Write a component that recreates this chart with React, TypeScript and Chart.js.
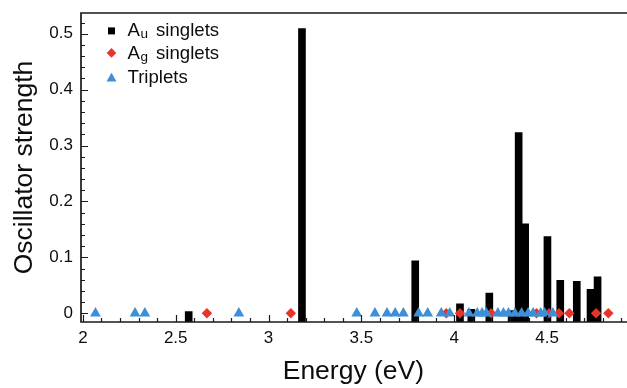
import React, { useEffect, useRef } from 'react';
import { Chart, registerables } from 'chart.js';

Chart.register(...registerables);

// ---- data ----
const AU_ENERGY = [2.57, 3.18, 3.79, 4.031, 4.092, 4.189, 4.309, 4.347, 4.382, 4.502, 4.571, 4.66, 4.734, 4.772];
const AU_STRENGTH = [0.003, 0.509, 0.094, 0.017, 0.007, 0.036, 0.005, 0.323, 0.16, 0.137, 0.059, 0.057, 0.043, 0.065];
const AG_ENERGY = [2.668, 3.12, 3.957, 4.031, 4.199, 4.443, 4.511, 4.564, 4.62, 4.764, 4.83];
const TRIPLET_ENERGY = [
  2.068, 2.281, 2.334, 2.84, 3.475, 3.573, 3.638, 3.682, 3.726, 3.808, 3.857, 3.93, 3.976,
  4.079, 4.124, 4.15, 4.173, 4.235, 4.265, 4.292, 4.327, 4.363, 4.398, 4.425, 4.466, 4.487, 4.531,
];
const X_TICKS = [2, 2.5, 3, 3.5, 4, 4.5];
const Y_TICKS = [0, 0.1, 0.2, 0.3, 0.4, 0.5];
const X_TITLE = 'Energy (eV)';
const Y_TITLE = 'Oscillator strength';
const LEGEND_MAIN = ['A', 'A', 'Triplets'];
const LEGEND_SUB = ['u', 'g', ''];
const LEGEND_REST = [' singlets', ' singlets', ''];

const X_MIN = 1.99;
const X_MAX = 4.924;
const Y_MIN = -0.0156;
const Y_MAX = 0.537;

// ---- style ----
const FONT = '"Liberation Sans", Arial, Helvetica, sans-serif';
const INK = '#0d0d0d';
const RED = '#e6342a';
const BLUE = '#3d8fd6';
const BAR = '#000000';
const LEGEND_COLORS = [BAR, RED, BLUE];
const LEGEND_SHAPES = ['square', 'diamond', 'triangle'];

const framePlugin = {
  id: 'frameTicks',
  afterDatasetsDraw(chart: any) {
    const { ctx, chartArea, scales } = chart;
    const { left, right, top, bottom } = chartArea;
    const xs = scales.x;
    const ys = scales.y;
    ctx.save();
    ctx.strokeStyle = '#1a1a1a';
    ctx.lineWidth = 1.2;
    ctx.beginPath();
    for (let i = 0; i <= 26; i++) {
      const v = i * 0.02;
      const p = Math.round(ys.getPixelForValue(v)) + 0.5;
      const len = i % 5 === 0 ? 7 : 4;
      ctx.moveTo(left, p);
      ctx.lineTo(left + len, p);
    }
    for (let i = 20; i <= 49; i++) {
      const v = i / 10;
      const p = Math.round(xs.getPixelForValue(v)) + 0.5;
      const len = i % 5 === 0 ? 7 : 4;
      ctx.moveTo(p, bottom);
      ctx.lineTo(p, bottom - len);
    }
    ctx.stroke();
    ctx.lineWidth = 1.7;
    ctx.beginPath();
    ctx.moveTo(right + 5, top);
    ctx.lineTo(left, top);
    ctx.lineTo(left, bottom);
    ctx.lineTo(right + 5, bottom);
    ctx.stroke();
    ctx.restore();
  },
};

const legendPlugin = {
  id: 'subLegend',
  afterDraw(chart: any) {
    const ctx = chart.ctx;
    ctx.save();
    const x0 = 111.5;
    const tx = 127.5;
    for (let i = 0; i < LEGEND_MAIN.length; i++) {
      const base = 36 + i * 23.3;
      ctx.fillStyle = LEGEND_COLORS[i];
      const shape = LEGEND_SHAPES[i];
      ctx.beginPath();
      if (shape === 'square') {
        ctx.rect(x0 - 3.5, base - 8.6, 7, 7);
      } else if (shape === 'diamond') {
        const cy = base - 6.4;
        ctx.moveTo(x0, cy - 4.8);
        ctx.lineTo(x0 + 4.8, cy);
        ctx.lineTo(x0, cy + 4.8);
        ctx.lineTo(x0 - 4.8, cy);
        ctx.closePath();
      } else {
        ctx.moveTo(x0, base - 9.8);
        ctx.lineTo(x0 + 5, base - 1.1);
        ctx.lineTo(x0 - 5, base - 1.1);
        ctx.closePath();
      }
      ctx.fill();
      ctx.fillStyle = INK;
      ctx.textBaseline = 'alphabetic';
      ctx.textAlign = 'left';
      let x = tx;
      ctx.font = `18.6px ${FONT}`;
      ctx.fillText(LEGEND_MAIN[i], x, base);
      x += ctx.measureText(LEGEND_MAIN[i]).width;
      if (LEGEND_SUB[i]) {
        ctx.font = `13.5px ${FONT}`;
        ctx.fillText(LEGEND_SUB[i], x + 0.5, base + 2);
        x += ctx.measureText(LEGEND_SUB[i]).width + 3.5;
      }
      if (LEGEND_REST[i]) {
        ctx.font = `18.6px ${FONT}`;
        ctx.fillText(LEGEND_REST[i], x, base);
      }
    }
    ctx.restore();
  },
};

export default function App() {
  const ref = useRef<HTMLCanvasElement | null>(null);

  useEffect(() => {
    if (!ref.current) return;
    const chart = new Chart(ref.current, {
      type: 'bar',
      data: {
        datasets: [
          {
            type: 'scatter',
            label: 'Triplets',
            data: TRIPLET_ENERGY.map((e) => ({ x: e, y: 0 })),
            pointStyle: 'triangle',
            pointRadius: 6.2,
            pointBackgroundColor: BLUE,
            backgroundColor: BLUE,
            pointBorderWidth: 0,
            borderWidth: 0,
            order: 0,
          } as any,
          {
            type: 'scatter',
            label: 'Ag singlets',
            data: AG_ENERGY.map((e) => ({ x: e, y: 0 })),
            pointStyle: 'rectRot',
            pointRadius: 5.2,
            pointBackgroundColor: RED,
            backgroundColor: RED,
            pointBorderWidth: 0,
            borderWidth: 0,
            order: 1,
          } as any,
          {
            type: 'bar',
            label: 'Au singlets',
            data: AU_ENERGY.map((e, i) => ({ x: e, y: AU_STRENGTH[i] })),
            backgroundColor: BAR,
            borderWidth: 0,
            barThickness: 7,
            base: Y_MIN,
            order: 2,
          } as any,
        ],
      },
      options: {
        animation: false,
        responsive: false,
        devicePixelRatio: 1,
        layout: { padding: { top: 13, left: 0, right: 0, bottom: 0 } },
        plugins: {
          legend: { display: false },
          tooltip: { enabled: false },
          title: { display: false },
        },
        scales: {
          x: {
            type: 'linear',
            min: X_MIN,
            max: X_MAX,
            offset: false,
            grid: { display: false, drawTicks: false },
            border: { display: false },
            ticks: {
              font: { size: 17, family: FONT },
              color: INK,
              padding: 6,
              maxRotation: 0,
              autoSkip: false,
              callback: (v: any) => String(v),
            },
            afterBuildTicks: (s: any) => {
              s.ticks = X_TICKS.map((v) => ({ value: v }));
            },
            afterFit: (s: any) => {
              s.height = 66;
              s.paddingLeft = 0;
              s.paddingRight = 0;
            },
            title: {
              display: true,
              text: X_TITLE,
              color: INK,
              font: { size: 26.5, family: FONT },
              padding: { top: 0, bottom: 0 },
            },
          },
          y: {
            type: 'linear',
            min: Y_MIN,
            max: Y_MAX,
            grid: { display: false, drawTicks: false },
            border: { display: false },
            ticks: {
              font: { size: 17, family: FONT },
              color: INK,
              padding: 8,
              autoSkip: false,
              callback: (v: any) => String(v),
            },
            afterBuildTicks: (s: any) => {
              s.ticks = Y_TICKS.map((v) => ({ value: v }));
            },
            afterFit: (s: any) => {
              s.width = 81;
              s.paddingTop = 0;
              s.paddingBottom = 0;
            },
            title: {
              display: true,
              text: Y_TITLE,
              color: INK,
              font: { size: 26.5, family: FONT },
              padding: { top: 9, bottom: 0 },
            },
          },
        },
      } as any,
      plugins: [framePlugin, legendPlugin],
    });
    return () => chart.destroy();
  }, []);

  return (
    <div
      style={{
        position: 'fixed',
        left: 0,
        top: 0,
        width: 627,
        height: 388,
        overflow: 'hidden',
        background: '#ffffff',
      }}
    >
      <canvas ref={ref} width={632} height={388} style={{ display: 'block', width: 632, height: 388 }} />
    </div>
  );
}
